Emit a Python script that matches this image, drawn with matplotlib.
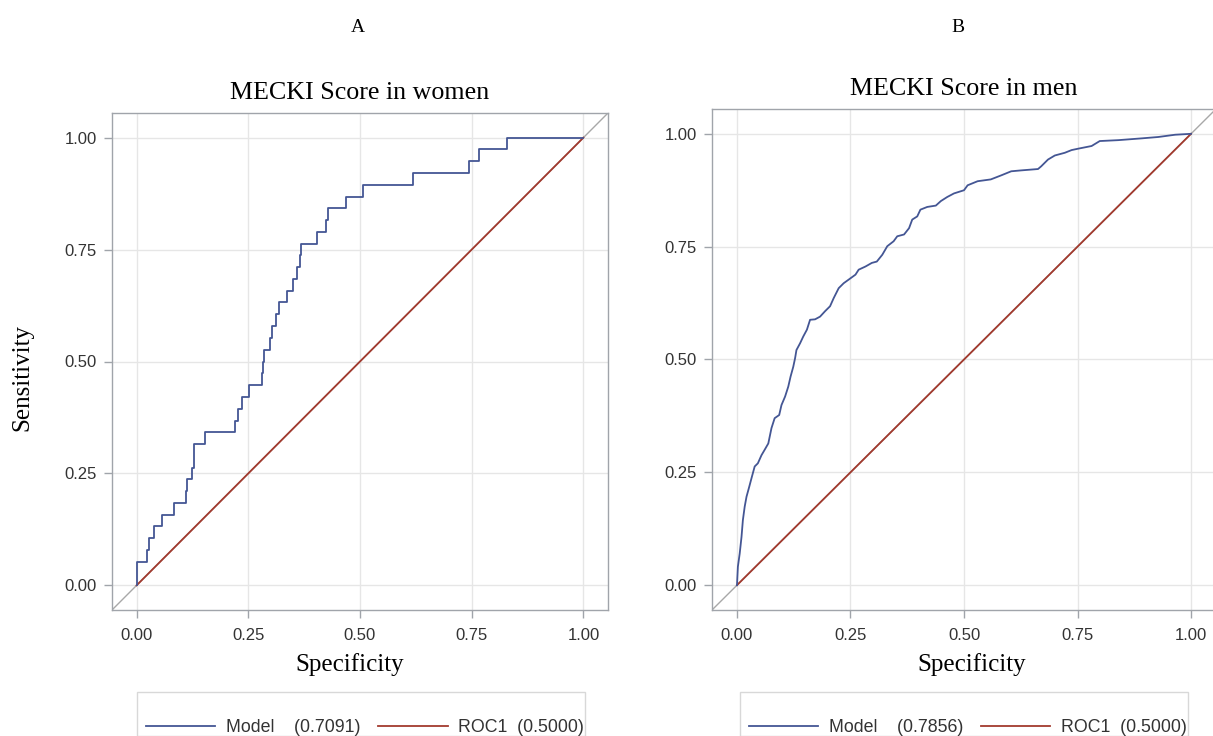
import matplotlib
matplotlib.use('Agg')
import matplotlib.pyplot as plt
from matplotlib.patches import Rectangle
from matplotlib.lines import Line2D

# ROC points
women_fpr = [0.0, 0.0, 0.024, 0.028, 0.039, 0.056, 0.084, 0.110, 0.112, 0.125,
             0.128, 0.154, 0.220, 0.228, 0.237, 0.251, 0.281, 0.283, 0.286, 0.299,
             0.302, 0.313, 0.319, 0.337, 0.349, 0.360, 0.366, 0.369, 0.403, 0.424,
             0.429, 0.468, 0.507, 0.619, 0.744, 0.766, 0.828, 1.0]
women_tpr = [0.0, 0.053, 0.079, 0.105, 0.132, 0.158, 0.184, 0.211, 0.237, 0.263,
             0.316, 0.342, 0.368, 0.395, 0.421, 0.447, 0.474, 0.500, 0.526, 0.553,
             0.579, 0.605, 0.632, 0.658, 0.684, 0.711, 0.737, 0.763, 0.789, 0.816,
             0.842, 0.868, 0.895, 0.921, 0.947, 0.974, 1.0, 1.0]

men_fpr = [0.0, 0.002, 0.006, 0.010, 0.013, 0.017, 0.021, 0.027, 0.032, 0.039,
           0.046, 0.054, 0.061, 0.069, 0.076, 0.083, 0.093, 0.098, 0.106, 0.113,
           0.118, 0.124, 0.128, 0.131, 0.139, 0.146, 0.154, 0.161, 0.172, 0.183,
           0.194, 0.205, 0.213, 0.224, 0.235, 0.246, 0.261, 0.268, 0.283, 0.297,
           0.308, 0.320, 0.331, 0.345, 0.353, 0.368, 0.379, 0.386, 0.397, 0.404,
           0.419, 0.438, 0.449, 0.463, 0.478, 0.500, 0.508, 0.530, 0.559, 0.582,
           0.604, 0.626, 0.663, 0.670, 0.685, 0.700, 0.722, 0.737, 0.751, 0.781,
           0.799, 0.840, 0.892, 0.928, 0.965, 1.0]
men_tpr = [0.0, 0.041, 0.070, 0.107, 0.144, 0.174, 0.196, 0.218, 0.237, 0.263,
           0.270, 0.288, 0.300, 0.314, 0.348, 0.370, 0.377, 0.399, 0.418, 0.440,
           0.462, 0.484, 0.503, 0.521, 0.536, 0.551, 0.566, 0.588, 0.589, 0.595,
           0.607, 0.618, 0.636, 0.658, 0.669, 0.677, 0.688, 0.699, 0.706, 0.714,
           0.717, 0.732, 0.751, 0.762, 0.773, 0.777, 0.791, 0.810, 0.817, 0.832,
           0.838, 0.841, 0.851, 0.860, 0.868, 0.875, 0.886, 0.895, 0.899, 0.908,
           0.917, 0.919, 0.922, 0.928, 0.943, 0.952, 0.958, 0.964, 0.967, 0.973,
           0.984, 0.986, 0.990, 0.993, 0.998, 1.0]

chance_x = [0.0, 1.0]
chance_y = [0.0, 1.0]

panel_letters = ['A', 'B']
titles = ['MECKI Score in women', 'MECKI Score in men']
model_auc = ['0.7091', '0.7856']
chance_auc = '0.5000'
ticks = [0.0, 0.25, 0.5, 0.75, 1.0]
tick_labels = ['0.00', '0.25', '0.50', '0.75', '1.00']

BLUE = '#445694'
RED = '#A23A2E'
SERIF = 'Liberation Serif'
SANS = 'Liberation Sans'

W, H = 1213, 736
fig = plt.figure(figsize=(W / 100, H / 100), dpi=100)

# axes boxes in pixels: left, top, right, bottom
boxes = [(112, 113, 608, 610), (712, 109, 1216, 610)]
legend_boxes = [(137, 692, 585), (740, 692, 1188)]
letter_x = [358, 958]
xlabel_pos = [0.48, 0.516]

for k, (l, t, r, b) in enumerate(boxes):
    ax = fig.add_axes([l / W, 1 - b / H, (r - l) / W, (b - t) / H])
    fpr, tpr = (women_fpr, women_tpr) if k == 0 else (men_fpr, men_tpr)

    ax.plot([-0.1, 1.1], [-0.1, 1.1], color='#A8A8A8', lw=1.0, zorder=2)
    ax.plot(chance_x, chance_y, color=RED, lw=1.3, zorder=3)
    if k == 0:
        ax.plot(fpr, tpr, color=BLUE, lw=1.3, drawstyle='steps-post', zorder=4)
    else:
        ax.plot(fpr, tpr, color=BLUE, lw=1.3, zorder=4)

    ax.set_xlim(-0.055, 1.055)
    ax.set_ylim(-0.055, 1.055)
    ax.set_xticks(ticks)
    ax.set_yticks(ticks)
    ax.set_xticklabels(tick_labels)
    ax.set_yticklabels(tick_labels)
    ax.grid(True, color='#E6E6E6', lw=1.0)
    ax.set_axisbelow(True)
    for s in ax.spines.values():
        s.set_color('#A0A4AA')
        s.set_linewidth(1.0)
    ax.tick_params(direction='out', length=6, width=1, color='#A0A4AA',
                   labelsize=12, labelcolor='#333333')
    ax.tick_params(axis='x', pad=7)
    ax.tick_params(axis='y', pad=5)
    for lab in ax.get_xticklabels() + ax.get_yticklabels():
        lab.set_fontfamily(SANS)

    ax.set_title(titles[k], fontfamily=SERIF, fontsize=18.7, pad=10)
    ax.set_xlabel('Specificity', fontfamily=SERIF, fontsize=18, labelpad=7)
    ax.xaxis.label.set_x(xlabel_pos[k])

    fig.text(letter_x[k] / W, 1 - 27 / H, panel_letters[k], fontfamily=SERIF,
             fontsize=14, ha='center', va='center')

    # legend box (cut by the bottom edge like the original)
    lx0, ly0, lx1 = legend_boxes[k]
    fig.patches.append(Rectangle((lx0 / W, 0), (lx1 - lx0) / W, 1 - ly0 / H,
                                 transform=fig.transFigure, fill=False,
                                 edgecolor='#D8D8D8', lw=1.0))
    handles = [Line2D([], [], color=BLUE, lw=1.3), Line2D([], [], color=RED, lw=1.3)]
    labels = [f'Model    ({model_auc[k]})', f'ROC1  ({chance_auc})']
    fig.legend(handles, labels, loc='center left', ncol=2, frameon=False,
               bbox_to_anchor=((lx0 + 9) / W, 1 - 728 / H),
               prop={'family': SANS, 'size': 12.8}, handlelength=3.9,
               handletextpad=0.6, columnspacing=1.0, borderpad=0,
               borderaxespad=0, labelcolor='#333333')

fig.text(22.5 / W, 1 - 377.5 / H, 'Sensitivity', fontfamily=SERIF, fontsize=18,
         rotation=90, ha='center', va='center')

fig.savefig('out.png', dpi=100)
